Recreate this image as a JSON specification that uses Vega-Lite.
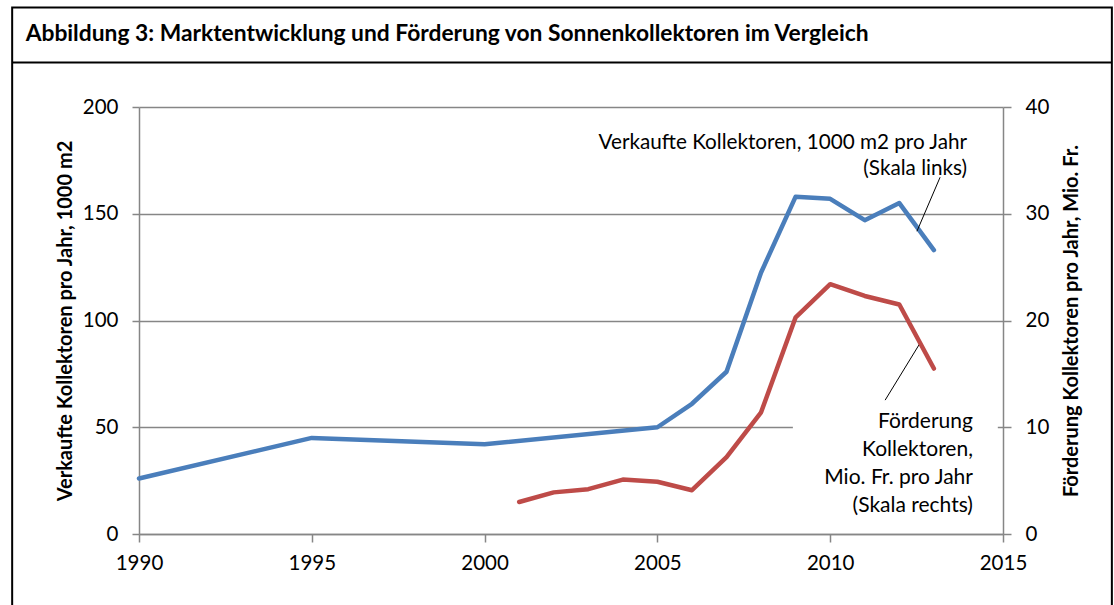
{
  "$schema": "https://vega.github.io/schema/vega-lite/v6.json",
  "width": 864,
  "height": 427,
  "autosize": "none",
  "padding": {"left": 139, "top": 107, "right": 111, "bottom": 71},
  "background": "white",
  "config": {
    "font": "Lato",
    "view": {"stroke": null},
    "axis": {
      "labelFont": "Lato",
      "titleFont": "Lato",
      "labelColor": "#000000",
      "titleColor": "#000000",
      "domainColor": "#868686",
      "tickColor": "#868686",
      "domainWidth": 1.5,
      "tickWidth": 1.5,
      "labelFontSize": 20.5,
      "titleFontSize": 20,
      "titleFontWeight": "bold"
    }
  },
  "datasets": {
    "verkauf": [
      {"Jahr": 1990, "Verkauf": 26},
      {"Jahr": 1995, "Verkauf": 45},
      {"Jahr": 2000, "Verkauf": 42},
      {"Jahr": 2005, "Verkauf": 50},
      {"Jahr": 2006, "Verkauf": 61},
      {"Jahr": 2007, "Verkauf": 76},
      {"Jahr": 2008, "Verkauf": 122.5},
      {"Jahr": 2009, "Verkauf": 158},
      {"Jahr": 2010, "Verkauf": 157},
      {"Jahr": 2011, "Verkauf": 147},
      {"Jahr": 2012, "Verkauf": 155},
      {"Jahr": 2013, "Verkauf": 133}
    ],
    "foerderung": [
      {"Jahr": 2001, "Foerderung": 3.0},
      {"Jahr": 2002, "Foerderung": 3.9},
      {"Jahr": 2003, "Foerderung": 4.2},
      {"Jahr": 2004, "Foerderung": 5.1},
      {"Jahr": 2005, "Foerderung": 4.9},
      {"Jahr": 2006, "Foerderung": 4.1},
      {"Jahr": 2007, "Foerderung": 7.2},
      {"Jahr": 2008, "Foerderung": 11.4},
      {"Jahr": 2009, "Foerderung": 20.3},
      {"Jahr": 2010, "Foerderung": 23.4},
      {"Jahr": 2011, "Foerderung": 22.3},
      {"Jahr": 2012, "Foerderung": 21.5},
      {"Jahr": 2013, "Foerderung": 15.5}
    ]
  },
  "layer": [
    {
      "layer": [
        {
          "data": {"values": [{}]},
          "mark": {"type": "rect", "fill": "white", "strokeWidth": 0},
          "encoding": {
            "x": {"datum": 2008.92, "type": "quantitative", "scale": {"domain": [1990, 2015], "nice": false, "zero": false}},
            "x2": {"datum": 2014.85},
            "y": {"datum": 30, "type": "quantitative", "scale": {"domain": [0, 200], "nice": false}},
            "y2": {"datum": 60}
          }
        },
        {
          "data": {"name": "verkauf"},
          "mark": {"type": "line", "color": "#4A7EBB", "strokeWidth": 4.5, "strokeJoin": "round", "strokeCap": "round"},
          "encoding": {
            "x": {
              "field": "Jahr",
              "type": "quantitative",
              "scale": {"domain": [1990, 2015], "nice": false, "zero": false},
              "axis": {
                "title": null,
                "values": [1990, 1995, 2000, 2005, 2010, 2015],
                "format": "d",
                "grid": false,
                "tickSize": 8,
                "labelPadding": 11,
                "labelFlush": false,
                "labelOverlap": false
              }
            },
            "y": {
              "field": "Verkauf",
              "type": "quantitative",
              "scale": {"domain": [0, 200], "nice": false},
              "axis": {
                "orient": "left",
                "title": "Verkaufte Kollektoren pro Jahr, 1000 m2",
                "values": [0, 50, 100, 150, 200],
                "grid": true,
                "gridColor": "#868686",
                "gridWidth": 1.5,
                "tickSize": 7,
                "labelPadding": 14,
                "titlePadding": 7
              }
            }
          }
        },
        {
          "data": {"values": [{}]},
          "mark": {"type": "text", "text": ["Verkaufte Kollektoren, 1000 m2 pro Jahr", "(Skala links)"], "align": "right", "baseline": "middle", "fontSize": 20.7, "lineHeight": 26, "color": "#000000"},
          "encoding": {
            "x": {"datum": 2013.96, "type": "quantitative", "scale": {"domain": [1990, 2015], "nice": false, "zero": false}},
            "y": {"datum": 183, "type": "quantitative", "scale": {"domain": [0, 200], "nice": false}}
          }
        },
        {
          "data": {"values": [{}]},
          "mark": {"type": "text", "text": ["Förderung", "Kollektoren,", "Mio. Fr. pro Jahr", "(Skala rechts)"], "align": "right", "baseline": "middle", "fontSize": 21, "lineHeight": 28, "color": "#000000"},
          "encoding": {
            "x": {"datum": 2014.13, "type": "quantitative", "scale": {"domain": [1990, 2015], "nice": false, "zero": false}},
            "y": {"datum": 52.6, "type": "quantitative", "scale": {"domain": [0, 200], "nice": false}}
          }
        },
        {
          "data": {"values": [{}]},
          "mark": {"type": "rule", "color": "#000000", "strokeWidth": 1},
          "encoding": {
            "x": {"datum": 2013.18, "type": "quantitative", "scale": {"domain": [1990, 2015], "nice": false, "zero": false}},
            "x2": {"datum": 2012.51},
            "y": {"datum": 167.1, "type": "quantitative", "scale": {"domain": [0, 200], "nice": false}},
            "y2": {"datum": 141.8}
          }
        },
        {
          "data": {"values": [{}]},
          "mark": {"type": "rule", "color": "#000000", "strokeWidth": 1},
          "encoding": {
            "x": {"datum": 2011.59, "type": "quantitative", "scale": {"domain": [1990, 2015], "nice": false, "zero": false}},
            "x2": {"datum": 2012.6},
            "y": {"datum": 62.7, "type": "quantitative", "scale": {"domain": [0, 200], "nice": false}},
            "y2": {"datum": 89.4}
          }
        },
        {
          "data": {"values": [{}]},
          "mark": {"type": "rect", "fill": null, "fillOpacity": 0, "stroke": "#000000", "strokeWidth": 2, "clip": false},
          "encoding": {
            "x": {"datum": 1986.33, "type": "quantitative", "scale": {"domain": [1990, 2015], "nice": false, "zero": false}},
            "x2": {"datum": 2018.15},
            "y": {"datum": 246.6, "type": "quantitative", "scale": {"domain": [0, 200], "nice": false}},
            "y2": {"datum": -50}
          }
        },
        {
          "data": {"values": [{}]},
          "mark": {"type": "rule", "color": "#000000", "strokeWidth": 2, "clip": false},
          "encoding": {
            "x": {"datum": 1986.33, "type": "quantitative", "scale": {"domain": [1990, 2015], "nice": false, "zero": false}},
            "x2": {"datum": 2018.15},
            "y": {"datum": 220.9, "type": "quantitative", "scale": {"domain": [0, 200], "nice": false}}
          }
        },
        {
          "data": {"values": [{}]},
          "mark": {"type": "text", "text": "Abbildung 3: Marktentwicklung und Förderung von Sonnenkollektoren im Vergleich", "align": "left", "baseline": "middle", "fontSize": 22.8, "fontWeight": "bold", "color": "#000000", "clip": false},
          "encoding": {
            "x": {"datum": 1986.72, "type": "quantitative", "scale": {"domain": [1990, 2015], "nice": false, "zero": false}},
            "y": {"datum": 234.0, "type": "quantitative", "scale": {"domain": [0, 200], "nice": false}}
          }
        }
      ]
    },
    {
      "data": {"name": "foerderung"},
      "mark": {"type": "line", "color": "#BE4B48", "strokeWidth": 4.5, "strokeJoin": "round", "strokeCap": "round"},
      "encoding": {
        "x": {"field": "Jahr", "type": "quantitative", "scale": {"domain": [1990, 2015], "nice": false, "zero": false}},
        "y": {
          "field": "Foerderung",
          "type": "quantitative",
          "scale": {"domain": [0, 40], "nice": false},
          "axis": {
            "orient": "right",
            "title": "Förderung Kollektoren pro Jahr, Mio. Fr.",
            "values": [0, 10, 20, 30, 40],
            "grid": false,
            "tickSize": 8,
            "labelPadding": 14,
            "titleAngle": 270,
            "titleBaseline": "top",
            "titlePadding": 13
          }
        }
      }
    }
  ],
  "resolve": {"scale": {"y": "independent"}, "axis": {"y": "independent"}}
}
